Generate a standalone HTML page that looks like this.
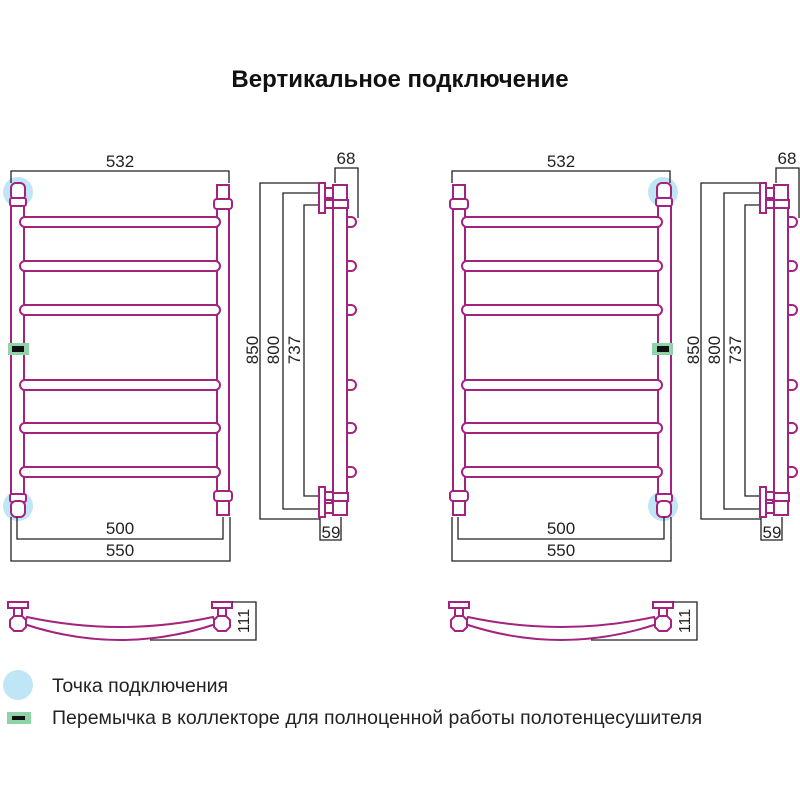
<!DOCTYPE html>
<html><head><meta charset="utf-8"><style>
body{margin:0;background:#fff;width:800px;height:800px;overflow:hidden}
svg{display:block}
text{font-family:"Liberation Sans",sans-serif}
</style></head><body>
<svg width="800" height="800" viewBox="0 0 800 800">
<defs>
<g id="front" fill="#fff" stroke="#a3237f" stroke-width="2">
  <rect x="11" y="200" width="13" height="295"/>
  <rect x="217" y="185" width="12" height="330"/>
  <rect x="11" y="183" width="14" height="17" rx="5"/>
  <rect x="10" y="198" width="16" height="8" rx="2"/>
  <rect x="10" y="494" width="16" height="8" rx="2"/>
  <rect x="11" y="501" width="14" height="16" rx="5"/>
  <rect x="214" y="199" width="18" height="10" rx="3"/>
  <rect x="214" y="491" width="18" height="10" rx="3"/>
  <rect x="20" y="217" width="200" height="10" rx="5"/>
  <rect x="20" y="261" width="200" height="10" rx="5"/>
  <rect x="20" y="305" width="200" height="10" rx="5"/>
  <rect x="20" y="380" width="200" height="10" rx="5"/>
  <rect x="20" y="423" width="200" height="10" rx="5"/>
  <rect x="20" y="467" width="200" height="10" rx="5"/>
</g>
<g id="side">
  <g fill="none" stroke="#222" stroke-width="1.3">
    <polyline points="320,183 260,183 260,519 320,519"/>
    <polyline points="320,193 283,193 283,509 320,509"/>
    <polyline points="320,205 304,205 304,496 320,496"/>
    <polyline points="335,183 335,168 358,168 358,218"/>
    <polyline points="320,517 320,540 341,540 341,517"/>
  </g>
  <g fill="#fff" stroke="#a3237f" stroke-width="2">
    <rect x="344" y="217" width="12" height="10" rx="5"/>
    <rect x="344" y="261" width="12" height="10" rx="5"/>
    <rect x="344" y="305" width="12" height="10" rx="5"/>
    <rect x="344" y="380" width="12" height="10" rx="5"/>
    <rect x="344" y="423" width="12" height="10" rx="5"/>
    <rect x="344" y="467" width="12" height="10" rx="5"/>
    <rect x="333" y="185" width="14" height="330"/>
    <rect x="332" y="200" width="16" height="8"/>
    <rect x="332" y="493" width="16" height="8"/>
    <rect x="319" y="183" width="6" height="30"/>
    <rect x="325" y="188" width="8" height="10"/>
    <rect x="325" y="200" width="8" height="8"/>
    <rect x="319" y="487" width="6" height="30"/>
    <rect x="325" y="492" width="8" height="8"/>
    <rect x="325" y="503" width="8" height="10"/>
  </g>
  <g font-size="17" fill="#222">
    <text x="346" y="164" text-anchor="middle">68</text>
    <text x="331" y="538" text-anchor="middle">59</text>
    <text transform="translate(258,350) rotate(-90)" text-anchor="middle">850</text>
    <text transform="translate(279,350) rotate(-90)" text-anchor="middle">800</text>
    <text transform="translate(300,350) rotate(-90)" text-anchor="middle">737</text>
  </g>
</g>
<g id="dims" fill="none" stroke="#222" stroke-width="1.3">
  <polyline points="11,183 11,171 229,171 229,183"/>
  <polyline points="17,517 17,539 223,539 223,517"/>
  <polyline points="11,517 11,561 230,561 230,517"/>
</g>
<g id="top">
  <g fill="#fff" stroke="#a3237f" stroke-width="2">
    <path d="M24,624 Q120,656 216,624 L213,617 Q120,637 27,617 Z"/>
    <rect x="8" y="602" width="20" height="6"/>
    <rect x="14" y="608" width="8" height="8"/>
    <rect x="212" y="602" width="20" height="6"/>
    <rect x="218" y="608" width="8" height="8"/>
    <polygon points="14,616 22,616 26,620 26,627 22,631 14,631 10,627 10,620"/>
    <polygon points="218,616 226,616 230,620 230,627 226,631 218,631 214,627 214,620"/>
  </g>
  <polyline points="232,602 256,602 256,640 150,640" fill="none" stroke="#222" stroke-width="1.3"/>
  <text transform="translate(249,621) rotate(-90)" text-anchor="middle" font-size="16" fill="#222">111</text>
</g>
</defs>

<text x="400" y="87" text-anchor="middle" font-size="24" font-weight="bold" fill="#111">Вертикальное подключение</text>

<!-- Left unit -->
<circle cx="18" cy="192" r="15" fill="#bfe6f5"/>
<circle cx="18" cy="506" r="15" fill="#bfe6f5"/>
<use href="#front"/>
<rect x="8" y="343" width="21" height="12" fill="#8fd3a8"/>
<rect x="12" y="346" width="12" height="6" fill="#111"/>
<use href="#dims"/>
<use href="#side"/>
<use href="#top"/>
<g font-size="17" fill="#222" text-anchor="middle">
  <text x="120" y="167">532</text>
  <text x="120" y="534">500</text>
  <text x="120" y="556">550</text>
</g>

<!-- Right unit -->
<circle cx="663" cy="192" r="15" fill="#bfe6f5"/>
<circle cx="663" cy="506" r="15" fill="#bfe6f5"/>
<g transform="translate(682,0) scale(-1,1)"><use href="#front"/></g>
<rect x="652" y="343" width="21" height="12" fill="#8fd3a8"/>
<rect x="657" y="346" width="12" height="6" fill="#111"/>
<g transform="translate(441,0)"><use href="#dims"/><use href="#side"/><use href="#top"/></g>
<g font-size="17" fill="#222" text-anchor="middle">
  <text x="561" y="167">532</text>
  <text x="561" y="534">500</text>
  <text x="561" y="556">550</text>
</g>

<!-- Legend -->
<circle cx="18" cy="685" r="15" fill="#bfe6f5"/>
<text x="52" y="692" font-size="19.5" fill="#222">Точка подключения</text>
<rect x="7" y="712" width="24" height="12" fill="#8fd3a8"/>
<rect x="12" y="716" width="13" height="4" fill="#111"/>
<text x="52" y="724" font-size="19.5" fill="#222">Перемычка в коллекторе для полноценной работы полотенцесушителя</text>
</svg>
</body></html>
